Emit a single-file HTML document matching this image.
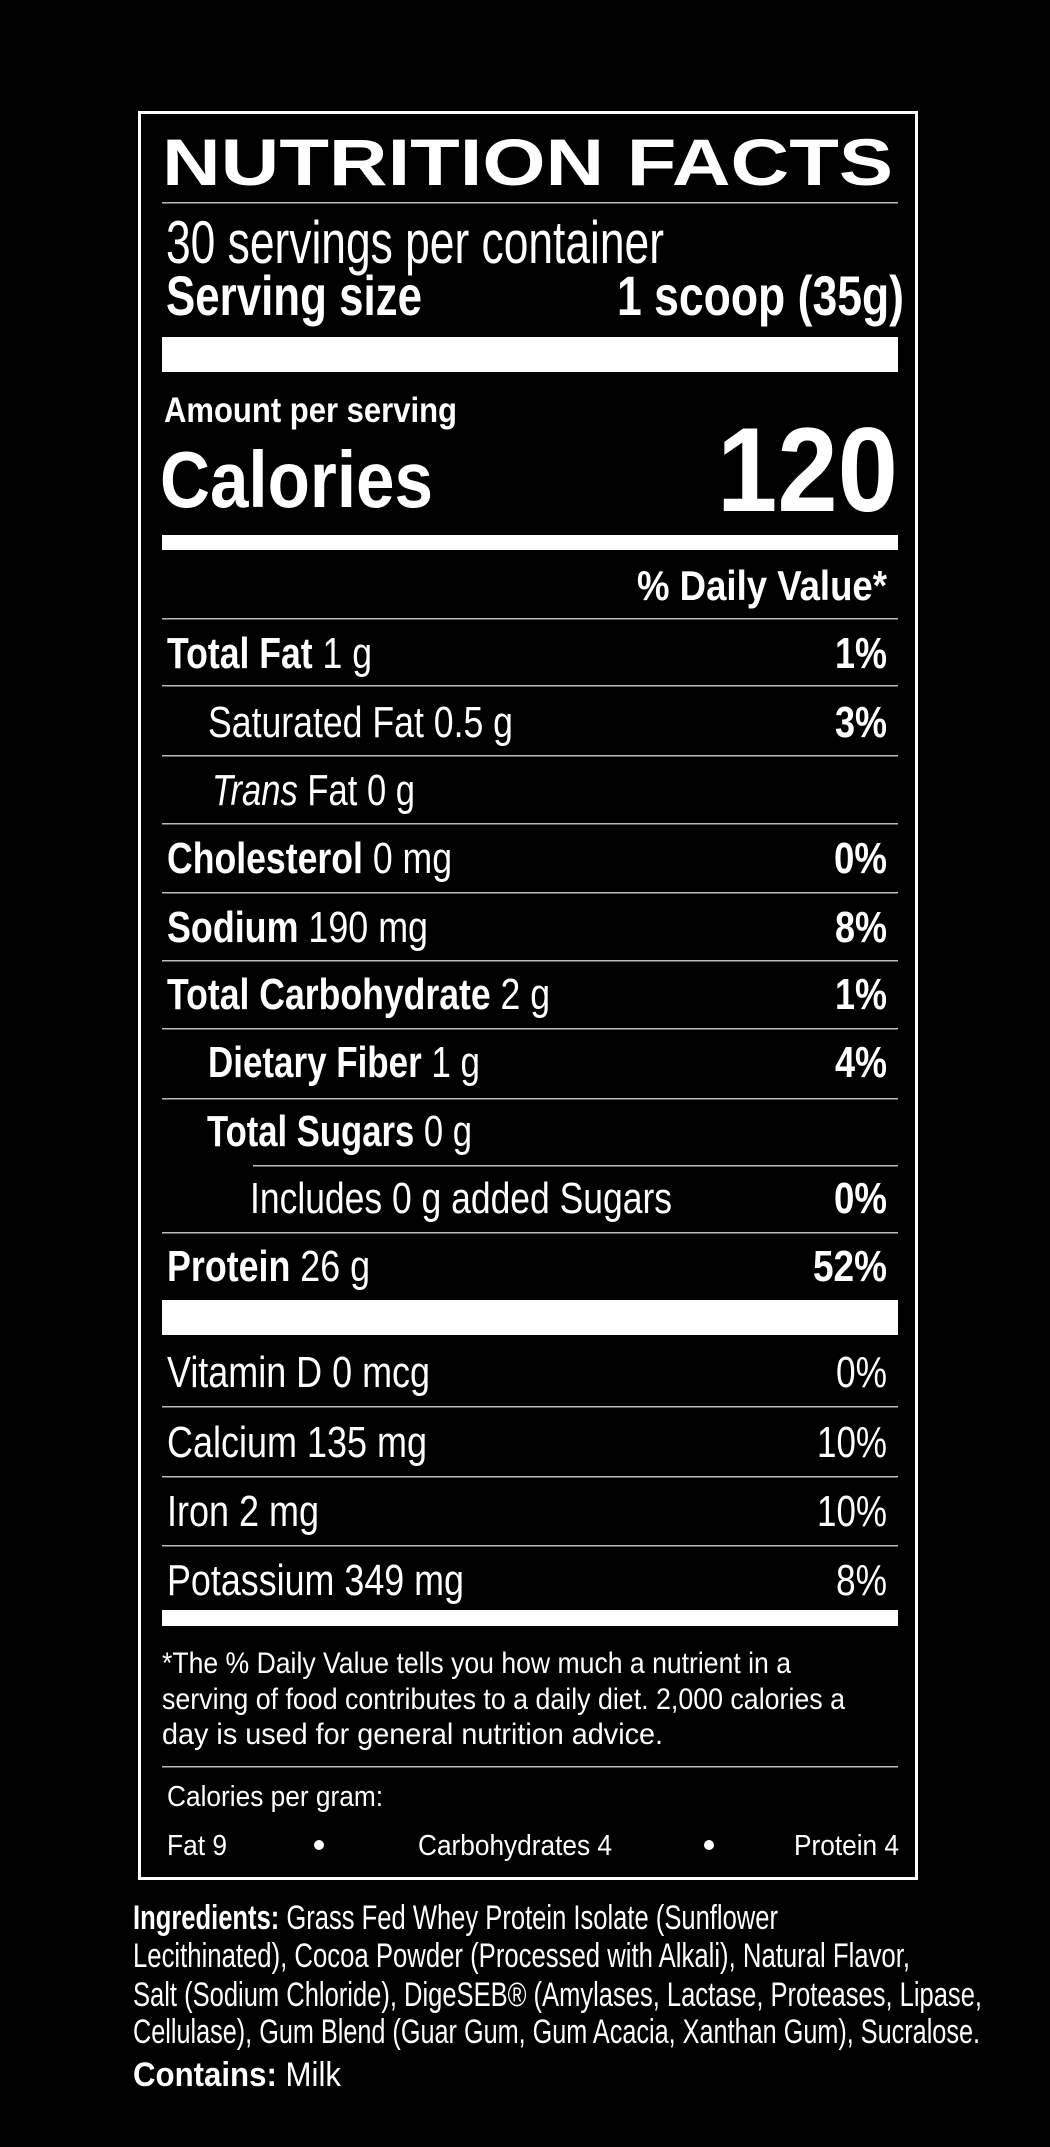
<!DOCTYPE html>
<html><head><meta charset="utf-8"><style>
html,body{margin:0;padding:0;background:#000;}
svg{display:block}
text{fill:#fff;font-family:"Liberation Sans",sans-serif;}
.b{font-weight:bold}
</style></head><body>
<svg width="1050" height="2147" viewBox="0 0 1050 2147" xmlns="http://www.w3.org/2000/svg">
<rect width="1050" height="2147" fill="#000"/>
<rect x="139.5" y="112.5" width="777" height="1766" fill="none" stroke="#fff" stroke-width="3"/>
<text class="b" x="162" y="185" font-size="66" textLength="731" lengthAdjust="spacingAndGlyphs">NUTRITION FACTS</text>
<rect x="162" y="202" width="736" height="1.5" fill="#bbb"/>
<text x="166" y="263" font-size="60" textLength="498" lengthAdjust="spacingAndGlyphs">30 servings per container</text>
<text class="b" x="166" y="315" font-size="56" textLength="256" lengthAdjust="spacingAndGlyphs">Serving size</text>
<text class="b" x="617" y="315" font-size="56" textLength="287" lengthAdjust="spacingAndGlyphs">1 scoop (35g)</text>
<rect x="162" y="337" width="736" height="35" fill="#fff"/>
<text class="b" x="164" y="422" font-size="35" textLength="293" lengthAdjust="spacingAndGlyphs">Amount per serving</text>
<text class="b" x="160" y="507" font-size="80" textLength="273" lengthAdjust="spacingAndGlyphs">Calories</text>
<text class="b" x="717" y="511" font-size="120" textLength="181" lengthAdjust="spacingAndGlyphs">120</text>
<rect x="162" y="535" width="736" height="15" fill="#fff"/>
<text class="b" x="637" y="600" font-size="42" textLength="250" lengthAdjust="spacingAndGlyphs">% Daily Value*</text>
<g fill="#bbb">
<rect x="162" y="618" width="736" height="1.5"/>
<rect x="162" y="685" width="736" height="1.5"/>
<rect x="162" y="755" width="736" height="1.5"/>
<rect x="162" y="823" width="736" height="1.5"/>
<rect x="162" y="892" width="736" height="1.5"/>
<rect x="162" y="960" width="736" height="1.5"/>
<rect x="162" y="1028" width="736" height="1.5"/>
<rect x="162" y="1098" width="736" height="1.5"/>
<rect x="253" y="1165" width="645" height="1.5"/>
<rect x="162" y="1232" width="736" height="1.5"/>
<rect x="162" y="1406" width="736" height="1.5"/>
<rect x="162" y="1476" width="736" height="1.5"/>
<rect x="162" y="1545" width="736" height="1.5"/>
<rect x="162" y="1766" width="736" height="1.5"/>
</g>
<g font-size="44">
<text x="167" y="668" textLength="205" lengthAdjust="spacingAndGlyphs"><tspan class="b">Total Fat</tspan> 1 g</text>
<text class="b" x="835" y="668" textLength="52" lengthAdjust="spacingAndGlyphs">1%</text>
<text x="208" y="737" textLength="305" lengthAdjust="spacingAndGlyphs">Saturated Fat 0.5 g</text>
<text class="b" x="835" y="737" textLength="52" lengthAdjust="spacingAndGlyphs">3%</text>
<text x="212" y="805" textLength="203" lengthAdjust="spacingAndGlyphs"><tspan font-style="italic">Trans</tspan> Fat 0 g</text>
<text x="167" y="873" textLength="285" lengthAdjust="spacingAndGlyphs"><tspan class="b">Cholesterol</tspan> 0 mg</text>
<text class="b" x="834" y="873" textLength="53" lengthAdjust="spacingAndGlyphs">0%</text>
<text x="167" y="942" textLength="261" lengthAdjust="spacingAndGlyphs"><tspan class="b">Sodium</tspan> 190 mg</text>
<text class="b" x="835" y="942" textLength="52" lengthAdjust="spacingAndGlyphs">8%</text>
<text x="167" y="1009" textLength="383" lengthAdjust="spacingAndGlyphs"><tspan class="b">Total Carbohydrate</tspan> 2 g</text>
<text class="b" x="835" y="1009" textLength="52" lengthAdjust="spacingAndGlyphs">1%</text>
<text x="208" y="1077" textLength="272" lengthAdjust="spacingAndGlyphs"><tspan class="b">Dietary Fiber</tspan> 1 g</text>
<text class="b" x="835" y="1077" textLength="52" lengthAdjust="spacingAndGlyphs">4%</text>
<text x="207" y="1146" textLength="265" lengthAdjust="spacingAndGlyphs"><tspan class="b">Total Sugars</tspan> 0 g</text>
<text x="250" y="1213" textLength="422" lengthAdjust="spacingAndGlyphs">Includes 0 g added Sugars</text>
<text class="b" x="834" y="1213" textLength="53" lengthAdjust="spacingAndGlyphs">0%</text>
<text x="167" y="1281" textLength="203" lengthAdjust="spacingAndGlyphs"><tspan class="b">Protein</tspan> 26 g</text>
<text class="b" x="813" y="1281" textLength="74" lengthAdjust="spacingAndGlyphs">52%</text>
</g>
<rect x="162" y="1300" width="736" height="35" fill="#fff"/>
<g font-size="44">
<text x="167" y="1387" textLength="263" lengthAdjust="spacingAndGlyphs">Vitamin D 0 mcg</text>
<text x="836" y="1387" textLength="51" lengthAdjust="spacingAndGlyphs">0%</text>
<text x="167" y="1457" textLength="260" lengthAdjust="spacingAndGlyphs">Calcium 135 mg</text>
<text x="817" y="1457" textLength="70" lengthAdjust="spacingAndGlyphs">10%</text>
<text x="167" y="1526" textLength="152" lengthAdjust="spacingAndGlyphs">Iron 2 mg</text>
<text x="817" y="1526" textLength="70" lengthAdjust="spacingAndGlyphs">10%</text>
<text x="167" y="1595" textLength="297" lengthAdjust="spacingAndGlyphs">Potassium 349 mg</text>
<text x="836" y="1595" textLength="51" lengthAdjust="spacingAndGlyphs">8%</text>
</g>
<rect x="162" y="1610" width="736" height="16" fill="#fff"/>
<g font-size="30">
<text x="162" y="1673" textLength="629" lengthAdjust="spacingAndGlyphs">*The % Daily Value tells you how much a nutrient in a</text>
<text x="162" y="1709" textLength="683" lengthAdjust="spacingAndGlyphs">serving of food contributes to a daily diet. 2,000 calories a</text>
<text x="162" y="1744" textLength="501" lengthAdjust="spacingAndGlyphs">day is used for general nutrition advice.</text>
</g>
<g font-size="29">
<text x="167" y="1806" textLength="216" lengthAdjust="spacingAndGlyphs">Calories per gram:</text>
<text x="167" y="1855" textLength="60" lengthAdjust="spacingAndGlyphs">Fat 9</text>
<text x="418" y="1855" textLength="194" lengthAdjust="spacingAndGlyphs">Carbohydrates 4</text>
<text x="794" y="1855" textLength="105" lengthAdjust="spacingAndGlyphs">Protein 4</text>
</g>
<circle cx="319" cy="1845" r="5" fill="#fff"/>
<circle cx="709" cy="1845" r="5" fill="#fff"/>
<g font-size="34">
<text x="133" y="1929" textLength="645" lengthAdjust="spacingAndGlyphs"><tspan class="b">Ingredients:</tspan> Grass Fed Whey Protein Isolate (Sunflower</text>
<text x="133" y="1967" textLength="777" lengthAdjust="spacingAndGlyphs">Lecithinated), Cocoa Powder (Processed with Alkali), Natural Flavor,</text>
<text x="133" y="2006" textLength="849" lengthAdjust="spacingAndGlyphs">Salt (Sodium Chloride), DigeSEB® (Amylases, Lactase, Proteases, Lipase,</text>
<text x="133" y="2043" textLength="847" lengthAdjust="spacingAndGlyphs">Cellulase), Gum Blend (Guar Gum, Gum Acacia, Xanthan Gum), Sucralose.</text>
<text x="133" y="2086" textLength="208" lengthAdjust="spacingAndGlyphs"><tspan class="b">Contains:</tspan> Milk</text>
</g>
</svg>
</body></html>
